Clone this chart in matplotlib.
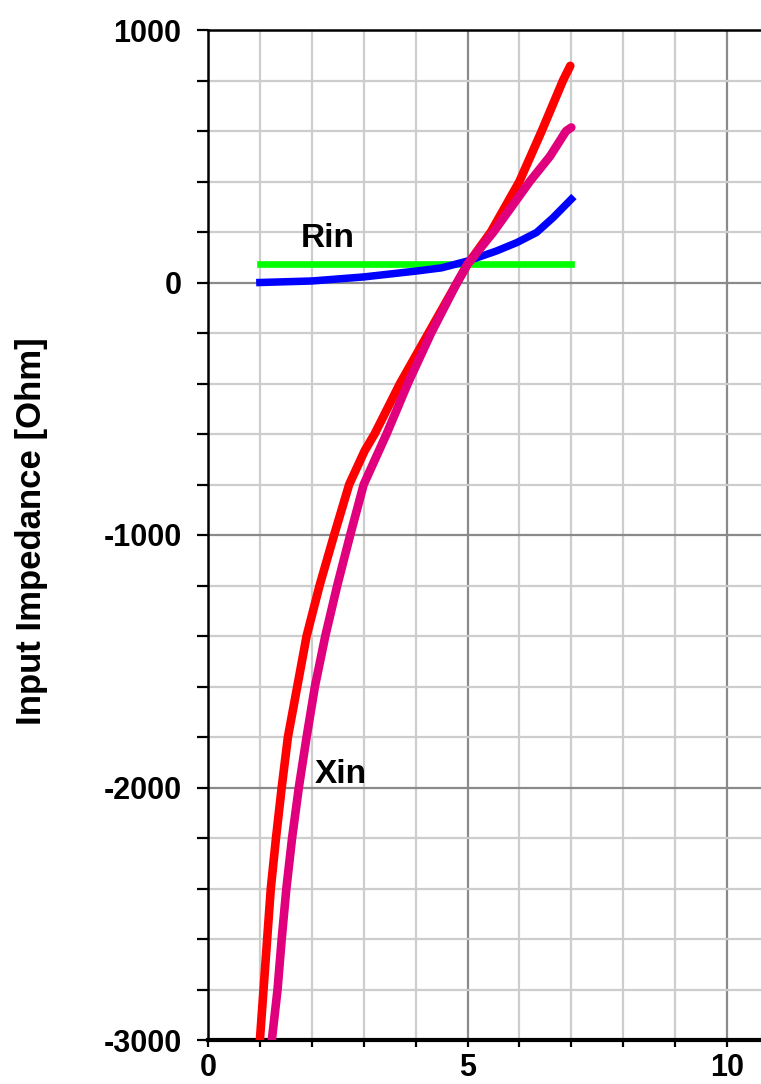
import numpy as np
import matplotlib
matplotlib.use("Agg")
import matplotlib.pyplot as plt
from matplotlib.ticker import MultipleLocator, FixedLocator

plt.rcParams['font.family'] = ['Liberation Sans', 'DejaVu Sans']
plt.rcParams['font.weight'] = 'bold'
plt.rcParams['axes.unicode_minus'] = False

# Rin (green, constant) and the three measured curves
rin_x = [1.0, 7.0]
rin_y = [72, 72]

blue_x = [1.0, 2.0, 3.0, 4.0, 4.5, 5.0, 5.56, 5.95, 6.33, 6.65, 7.0]
blue_y = [0, 6, 22, 45, 58, 85, 125, 158, 198, 257, 330]

red_x = [1.0, 1.07, 1.14, 1.21, 1.31, 1.42, 1.54, 1.72, 1.9, 2.15, 2.43,
         2.72, 3.02, 3.21, 3.70, 4.25, 4.8, 5.0, 5.45, 6.0, 6.43, 6.84, 6.98]
red_y = [-3000, -2800, -2600, -2400, -2200, -2000, -1800, -1600, -1400, -1200, -1000,
         -800, -666, -600, -400, -200, 0, 72, 200, 400, 600, 800, 858]

mag_x = [1.23, 1.34, 1.42, 1.51, 1.62, 1.75, 1.9, 2.06, 2.26, 2.49, 2.74,
         3.0, 3.44, 3.85, 4.3, 4.8, 5.0, 5.5, 6.2, 6.59, 6.9, 7.0]
mag_y = [-3000, -2800, -2600, -2400, -2200, -2000, -1800, -1600, -1400, -1200, -1000,
         -800, -600, -400, -200, 0, 72, 200, 400, 500, 600, 614]

fig = plt.figure(figsize=(7.61, 10.84), dpi=100)
ax = fig.add_axes([208 / 761, 44 / 1084, 553 / 761, 1010 / 1084])

ax.set_xlim(0, 553 / 51.9)
ax.set_ylim(-3000, 1000)

# grid: light every 1 / 200, darker every 5 / 1000
for xv in np.arange(1, 11):
    c = '#8a8a8a' if xv % 5 == 0 else '#cdcdcd'
    ax.axvline(xv, color=c, lw=1.6, zorder=1)
for yv in np.arange(-2800, 1000, 200):
    c = '#8a8a8a' if yv % 1000 == 0 else '#cdcdcd'
    ax.axhline(yv, color=c, lw=1.6, zorder=1)

ax.plot(rin_x, rin_y, color='#00ff00', lw=4.8, zorder=3)
ax.plot(blue_x, blue_y, color='#0000ff', lw=5.4, zorder=4)
ax.plot(red_x, red_y, color='#ff0000', lw=6.2, zorder=5, solid_capstyle='round')
ax.plot(mag_x, mag_y, color='#e0007e', lw=6.2, zorder=6, solid_capstyle='round')

ax.text(2.31, 173, 'Rin', fontsize=24, fontweight='bold', ha='center', va='center', zorder=7)
ax.text(2.56, -1950, 'Xin', fontsize=24, fontweight='bold', ha='center', va='center', zorder=7)

# ticks
ax.xaxis.set_major_locator(FixedLocator([0, 5, 10]))
ax.xaxis.set_minor_locator(MultipleLocator(1))
ax.yaxis.set_major_locator(MultipleLocator(1000))
ax.yaxis.set_minor_locator(MultipleLocator(200))
ax.tick_params(axis='both', which='both', direction='out', width=1.6, color='black')
ax.tick_params(axis='y', which='both', length=8, labelsize=22, pad=11)
ax.tick_params(axis='x', which='both', length=5, labelsize=22, pad=4)
for lab in ax.get_xticklabels() + ax.get_yticklabels():
    lab.set_fontweight('bold')

ax.spines['right'].set_visible(False)
ax.spines['left'].set_linewidth(1.8)
ax.spines['top'].set_linewidth(1.8)
ax.spines['bottom'].set_linewidth(3.0)

ax.text(-0.32, 0.504, 'Input Impedance [Ohm]', transform=ax.transAxes, rotation=90,
        fontsize=25, fontweight='bold', ha='center', va='center')

fig.savefig('out.png', dpi=100)
